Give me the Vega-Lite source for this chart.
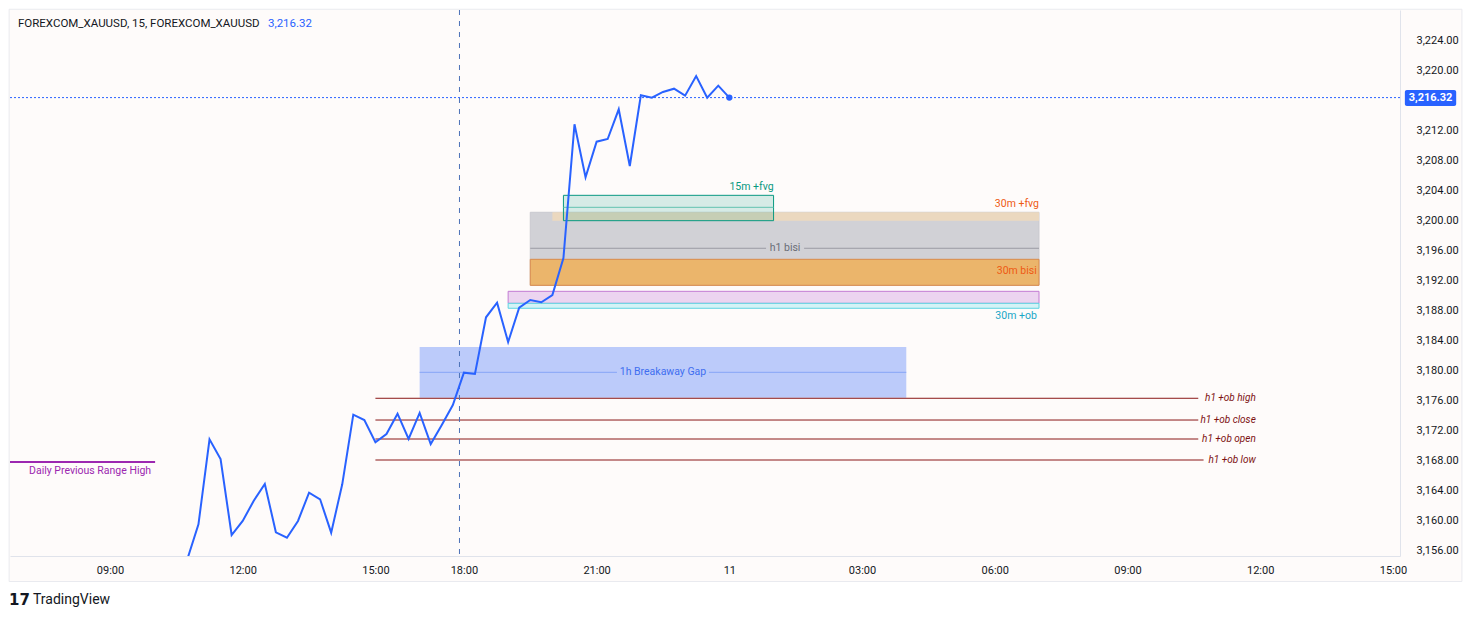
{
  "$schema": "https://vega.github.io/schema/vega-lite/v6.json",
  "width": 1390,
  "height": 546,
  "autosize": {"type": "none"},
  "padding": {"left": 10, "top": 10, "right": 71, "bottom": 61},
  "background": "#ffffff",
  "config": {"view": {"stroke": null}, "font": "Roboto"},
  "datasets": {
    "price": [
      {"time": "10:45", "t": 1.75, "v": 3154.8},
      {"time": "11:00", "t": 2.0, "v": 3159.43},
      {"time": "11:15", "t": 2.25, "v": 3170.76},
      {"time": "11:30", "t": 2.5, "v": 3168.13},
      {"time": "11:45", "t": 2.75, "v": 3158.0},
      {"time": "12:00", "t": 3.0, "v": 3159.87},
      {"time": "12:15", "t": 3.25, "v": 3162.57},
      {"time": "12:30", "t": 3.5, "v": 3164.8},
      {"time": "12:45", "t": 3.75, "v": 3158.36},
      {"time": "13:00", "t": 4.0, "v": 3157.64},
      {"time": "13:15", "t": 4.25, "v": 3159.87},
      {"time": "13:30", "t": 4.5, "v": 3163.64},
      {"time": "13:45", "t": 4.75, "v": 3162.76},
      {"time": "14:00", "t": 5.0, "v": 3158.31},
      {"time": "14:15", "t": 5.25, "v": 3164.76},
      {"time": "14:30", "t": 5.5, "v": 3174.04},
      {"time": "14:45", "t": 5.75, "v": 3173.33},
      {"time": "15:00", "t": 6.0, "v": 3170.36},
      {"time": "15:15", "t": 6.25, "v": 3171.47},
      {"time": "15:30", "t": 6.5, "v": 3174.18},
      {"time": "15:45", "t": 6.75, "v": 3170.8},
      {"time": "16:00", "t": 7.0, "v": 3174.27},
      {"time": "16:15", "t": 7.25, "v": 3170.13},
      {"time": "16:30", "t": 7.5, "v": 3172.67},
      {"time": "16:45", "t": 7.75, "v": 3175.33},
      {"time": "18:00", "t": 8.0, "v": 3179.64},
      {"time": "18:15", "t": 8.25, "v": 3179.47},
      {"time": "18:30", "t": 8.5, "v": 3187.03},
      {"time": "18:45", "t": 8.75, "v": 3188.97},
      {"time": "19:00", "t": 9.0, "v": 3183.73},
      {"time": "19:15", "t": 9.25, "v": 3188.31},
      {"time": "19:30", "t": 9.5, "v": 3189.33},
      {"time": "19:45", "t": 9.75, "v": 3189.03},
      {"time": "20:00", "t": 10.0, "v": 3190.0},
      {"time": "20:15", "t": 10.25, "v": 3194.93},
      {"time": "20:30", "t": 10.5, "v": 3212.76},
      {"time": "20:45", "t": 10.75, "v": 3205.69},
      {"time": "21:00", "t": 11.0, "v": 3210.44},
      {"time": "21:15", "t": 11.25, "v": 3210.8},
      {"time": "21:30", "t": 11.5, "v": 3214.76},
      {"time": "21:45", "t": 11.75, "v": 3207.2},
      {"time": "22:00", "t": 12.0, "v": 3216.63},
      {"time": "22:15", "t": 12.25, "v": 3216.31},
      {"time": "22:30", "t": 12.5, "v": 3217.07},
      {"time": "22:45", "t": 12.75, "v": 3217.51},
      {"time": "23:00", "t": 13.0, "v": 3216.58},
      {"time": "23:15", "t": 13.25, "v": 3219.2},
      {"time": "23:30", "t": 13.5, "v": 3216.31},
      {"time": "23:45", "t": 13.75, "v": 3217.91},
      {"time": "00:00", "t": 14.0, "v": 3216.32}
    ],
    "zones": [
      {"zone": "h1 bisi", "t": 9.5, "t2": 21.0, "v": 3201.03, "v2": 3191.29},
      {"zone": "30m +fvg", "t": 10.0, "t2": 21.0, "v": 3201.03, "v2": 3199.91},
      {"zone": "30m bisi", "t": 9.5, "t2": 21.0, "v": 3194.76, "v2": 3191.29},
      {"zone": "30m +ob body", "t": 9.0, "t2": 21.0, "v": 3190.49, "v2": 3188.89},
      {"zone": "30m +ob edge", "t": 9.0, "t2": 21.0, "v": 3188.89, "v2": 3188.23},
      {"zone": "1h Breakaway Gap", "t": 7.0, "t2": 18.0, "v": 3183.07, "v2": 3176.31},
      {"zone": "15m +fvg", "t": 10.25, "t2": 15.0, "v": 3203.29, "v2": 3199.91}
    ],
    "mids": [
      {"seg": "h1 bisi", "t": 9.5, "t2": 14.83, "v": 3196.23},
      {"seg": "h1 bisi", "t": 15.69, "t2": 21.0, "v": 3196.23},
      {"seg": "1h Breakaway Gap", "t": 7.0, "t2": 11.46, "v": 3179.69},
      {"seg": "1h Breakaway Gap", "t": 13.54, "t2": 18.0, "v": 3179.69},
      {"seg": "15m +fvg", "t": 10.25, "t2": 15.0, "v": 3201.69}
    ],
    "levels": [
      {"level": "h1 +ob high", "t": 6.0, "t2": 24.6, "v": 3176.23, "tl": 25.9},
      {"level": "h1 +ob close", "t": 6.0, "t2": 24.6, "v": 3173.33, "tl": 25.9},
      {"level": "h1 +ob open", "t": 6.0, "t2": 24.6, "v": 3170.8, "tl": 25.9},
      {"level": "h1 +ob low", "t": 6.0, "t2": 24.72, "v": 3168.0, "tl": 25.9}
    ],
    "daily": [
      {"level": "Daily Previous Range High", "t": -2.3, "t2": 1.02, "v": 3167.73}
    ],
    "rlabels": [
      {"label": "15m +fvg", "t": 15.0, "v": 3204.4},
      {"label": "30m +fvg", "t": 21.0, "v": 3202.13},
      {"label": "30m bisi", "t": 20.95, "v": 3193.2},
      {"label": "30m +ob", "t": 20.95, "v": 3187.2},
      {"label": "Daily Previous Range High", "t": 0.93, "v": 3166.6}
    ],
    "clabels": [
      {"label": "h1 bisi", "t": 15.26, "v": 3196.23},
      {"label": "1h Breakaway Gap", "t": 12.5, "v": 3179.69}
    ],
    "header": [
      {"label": "FOREXCOM_XAUUSD, 15, FOREXCOM_XAUUSD", "kind": "name", "t": -2.08, "v": 3226.13},
      {"label": "3,216.32", "kind": "last", "t": 3.57, "v": 3226.13}
    ],
    "logo": [
      {"label": "TradingView", "t": -1.74, "v": 3149.33}
    ]
  },
  "layer": [
    {
      "data": {"values": [{}]},
      "mark": {"type": "rect", "fill": "#fefbfa", "stroke": "#e9eaef", "strokeWidth": 1, "clip": false},
      "encoding": {
        "x": {"datum": -2.28, "type": "quantitative", "scale": {"domain": [-2.26, 29.16], "nice": false, "zero": false}, "axis": null},
        "x2": {"datum": 30.56},
        "y": {"datum": 3228.1, "type": "quantitative", "scale": {"domain": [3155.2, 3228.0], "nice": false, "zero": false}, "axis": null},
        "y2": {"datum": 3151.8}
      }
    },
    {
      "data": {"name": "zones"},
      "transform": [{"filter": "datum.zone != '15m +fvg'"}],
      "mark": {"type": "rect", "strokeWidth": 1},
      "encoding": {
        "x": {"field": "t", "type": "quantitative", "scale": {"domain": [-2.26, 29.16], "nice": false, "zero": false}, "axis": null},
        "x2": {"field": "t2"},
        "y": {"field": "v", "type": "quantitative", "scale": {"domain": [3155.2, 3228.0], "nice": false, "zero": false}, "axis": null},
        "y2": {"field": "v2"},
        "fill": {"field": "zone", "type": "nominal", "legend": null,
          "scale": {"domain": ["h1 bisi", "30m +fvg", "30m bisi", "30m +ob body", "30m +ob edge", "1h Breakaway Gap"],
                    "range": ["#d1d1d6", "#ebd8bf", "#ebb56b", "#ecd4f0", "#d4f3f6", "#bccbfa"]}},
        "stroke": {"field": "zone", "type": "nominal", "legend": null,
          "scale": {"domain": ["h1 bisi", "30m +fvg", "30m bisi", "30m +ob body", "30m +ob edge", "1h Breakaway Gap"],
                    "range": ["#c9c9cf", "transparent", "#d98a4c", "#c27bd3", "#5ed3e1", "transparent"]}}
      }
    },
    {
      "data": {"name": "zones"},
      "transform": [{"filter": "datum.zone == '15m +fvg'"}],
      "mark": {"type": "rect", "fill": "#089981", "fillOpacity": 0.16, "stroke": "#089981", "strokeWidth": 1},
      "encoding": {
        "x": {"field": "t", "type": "quantitative", "scale": {"domain": [-2.26, 29.16], "nice": false, "zero": false}, "axis": null},
        "x2": {"field": "t2"},
        "y": {"field": "v", "type": "quantitative", "scale": {"domain": [3155.2, 3228.0], "nice": false, "zero": false}, "axis": null},
        "y2": {"field": "v2"}
      }
    },
    {
      "data": {"name": "mids"},
      "mark": {"type": "rule", "strokeWidth": 1},
      "encoding": {
        "x": {"field": "t", "type": "quantitative", "scale": {"domain": [-2.26, 29.16], "nice": false, "zero": false}, "axis": null},
        "x2": {"field": "t2"},
        "y": {"field": "v", "type": "quantitative", "scale": {"domain": [3155.2, 3228.0], "nice": false, "zero": false}, "axis": null},
        "color": {"field": "seg", "type": "nominal", "legend": null,
          "scale": {"domain": ["h1 bisi", "1h Breakaway Gap", "15m +fvg"], "range": ["#9b9ba3", "#86a5f7", "#62c2b0"]}}
      }
    },
    {
      "data": {"name": "levels"},
      "mark": {"type": "rule", "color": "#8a1717", "strokeWidth": 1},
      "encoding": {
        "x": {"field": "t", "type": "quantitative", "scale": {"domain": [-2.26, 29.16], "nice": false, "zero": false}, "axis": null},
        "x2": {"field": "t2"},
        "y": {"field": "v", "type": "quantitative", "scale": {"domain": [3155.2, 3228.0], "nice": false, "zero": false}, "axis": null}
      }
    },
    {
      "data": {"name": "levels"},
      "mark": {"type": "text", "align": "right", "baseline": "middle", "fontStyle": "italic", "fontSize": 10, "color": "#7d1212"},
      "encoding": {
        "x": {"field": "tl", "type": "quantitative", "scale": {"domain": [-2.26, 29.16], "nice": false, "zero": false}, "axis": null},
        "y": {"field": "v", "type": "quantitative", "scale": {"domain": [3155.2, 3228.0], "nice": false, "zero": false}, "axis": null},
        "text": {"field": "level"}
      }
    },
    {
      "data": {"name": "daily"},
      "mark": {"type": "rule", "color": "#9c27b0", "strokeWidth": 2, "clip": true},
      "encoding": {
        "x": {"field": "t", "type": "quantitative", "scale": {"domain": [-2.26, 29.16], "nice": false, "zero": false}, "axis": null},
        "x2": {"field": "t2"},
        "y": {"field": "v", "type": "quantitative", "scale": {"domain": [3155.2, 3228.0], "nice": false, "zero": false}, "axis": null}
      }
    },
    {
      "data": {"values": [{}]},
      "mark": {"type": "rule", "color": "#4d72b8", "strokeWidth": 1, "strokeDash": [5, 6]},
      "encoding": {
        "x": {"datum": 7.9, "type": "quantitative", "scale": {"domain": [-2.26, 29.16], "nice": false, "zero": false}, "axis": null}
      }
    },
    {
      "data": {"values": [{}]},
      "mark": {"type": "rule", "color": "#2962ff", "strokeWidth": 1, "strokeDash": [2, 2]},
      "encoding": {
        "y": {"datum": 3216.32, "type": "quantitative", "scale": {"domain": [3155.2, 3228.0], "nice": false, "zero": false}, "axis": null}
      }
    },
    {
      "data": {"name": "price"},
      "mark": {"type": "line", "color": "#2962ff", "strokeWidth": 2, "clip": true, "strokeJoin": "miter"},
      "encoding": {
        "x": {"field": "t", "type": "quantitative", "scale": {"domain": [-2.26, 29.16], "nice": false, "zero": false},
          "axis": {"values": [0, 3, 6, 8, 11, 14, 17, 20, 23, 26, 29],
            "labelExpr": "['09:00','12:00','15:00','18:00','21:00','11','03:00','06:00','09:00','12:00','15:00'][indexof([0,3,6,8,11,14,17,20,23,26,29], datum.value)]",
            "ticks": false, "grid": false, "domain": true, "domainColor": "#e0e3eb", "labelFont": "Roboto", "labelFontSize": 11,
            "labelColor": "#131722", "labelPadding": 8, "title": null, "zindex": 1, "labelFlush": false, "labelOverlap": false}},
        "y": {"field": "v", "type": "quantitative", "scale": {"domain": [3155.2, 3228.0], "nice": false, "zero": false},
          "axis": {"orient": "right", "values": [3156, 3160, 3164, 3168, 3172, 3176, 3180, 3184, 3188, 3192, 3196, 3200, 3204, 3208, 3212, 3220, 3224],
            "format": ",.2f", "ticks": false, "grid": false, "domain": true, "domainColor": "#e0e3eb", "labelFont": "Roboto", "labelFontSize": 11,
            "labelColor": "#131722", "labelPadding": 16, "title": null, "zindex": 1, "labelFlush": false, "labelOverlap": false}},
        "order": {"field": "t", "type": "quantitative"}
      }
    },
    {
      "data": {"name": "price"},
      "transform": [{"filter": "datum.t == 14"}],
      "mark": {"type": "circle", "color": "#2962ff", "size": 40, "opacity": 1},
      "encoding": {
        "x": {"field": "t", "type": "quantitative", "scale": {"domain": [-2.26, 29.16], "nice": false, "zero": false}, "axis": null},
        "y": {"field": "v", "type": "quantitative", "scale": {"domain": [3155.2, 3228.0], "nice": false, "zero": false}, "axis": null}
      }
    },
    {
      "data": {"values": [{}]},
      "mark": {"type": "rect", "color": "#2962ff", "cornerRadius": 2, "clip": false},
      "encoding": {
        "x": {"datum": 29.27, "type": "quantitative", "scale": {"domain": [-2.26, 29.16], "nice": false, "zero": false}, "axis": null},
        "x2": {"datum": 30.43},
        "y": {"datum": 3217.35, "type": "quantitative", "scale": {"domain": [3155.2, 3228.0], "nice": false, "zero": false}, "axis": null},
        "y2": {"datum": 3215.2}
      }
    },
    {
      "data": {"name": "price"},
      "transform": [{"filter": "datum.t == 14"}],
      "mark": {"type": "text", "color": "#ffffff", "fontWeight": "bold", "fontSize": 11, "align": "center", "baseline": "middle"},
      "encoding": {
        "x": {"datum": 29.85, "type": "quantitative", "scale": {"domain": [-2.26, 29.16], "nice": false, "zero": false}, "axis": null},
        "y": {"field": "v", "type": "quantitative", "scale": {"domain": [3155.2, 3228.0], "nice": false, "zero": false}, "axis": null},
        "text": {"field": "v", "format": ",.2f"}
      }
    },
    {
      "data": {"name": "rlabels"},
      "mark": {"type": "text", "align": "right", "baseline": "middle", "fontSize": 10.5},
      "encoding": {
        "x": {"field": "t", "type": "quantitative", "scale": {"domain": [-2.26, 29.16], "nice": false, "zero": false}, "axis": null},
        "y": {"field": "v", "type": "quantitative", "scale": {"domain": [3155.2, 3228.0], "nice": false, "zero": false}, "axis": null},
        "text": {"field": "label"},
        "color": {"field": "label", "type": "nominal", "legend": null,
          "scale": {"domain": ["15m +fvg", "30m +fvg", "30m bisi", "30m +ob", "Daily Previous Range High"],
                    "range": ["#089981", "#ee5a14", "#ee5a14", "#1aa6c6", "#9c27b0"]}}
      }
    },
    {
      "data": {"name": "clabels"},
      "mark": {"type": "text", "align": "center", "baseline": "middle", "fontSize": 10.5},
      "encoding": {
        "x": {"field": "t", "type": "quantitative", "scale": {"domain": [-2.26, 29.16], "nice": false, "zero": false}, "axis": null},
        "y": {"field": "v", "type": "quantitative", "scale": {"domain": [3155.2, 3228.0], "nice": false, "zero": false}, "axis": null},
        "text": {"field": "label"},
        "color": {"field": "label", "type": "nominal", "legend": null,
          "scale": {"domain": ["h1 bisi", "1h Breakaway Gap"], "range": ["#6a6d76", "#3f6ef0"]}}
      }
    },
    {
      "data": {"name": "header"},
      "mark": {"type": "text", "align": "left", "baseline": "middle", "fontSize": 11.5},
      "encoding": {
        "x": {"field": "t", "type": "quantitative", "scale": {"domain": [-2.26, 29.16], "nice": false, "zero": false}, "axis": null},
        "y": {"field": "v", "type": "quantitative", "scale": {"domain": [3155.2, 3228.0], "nice": false, "zero": false}, "axis": null},
        "text": {"field": "label"},
        "color": {"field": "kind", "type": "nominal", "legend": null,
          "scale": {"domain": ["name", "last"], "range": ["#131722", "#2962ff"]}}
      }
    },
    {
      "data": {"name": "logo"},
      "mark": {"type": "text", "align": "left", "baseline": "middle", "fontSize": 14, "color": "#131722"},
      "encoding": {
        "x": {"field": "t", "type": "quantitative", "scale": {"domain": [-2.26, 29.16], "nice": false, "zero": false}, "axis": null},
        "y": {"field": "v", "type": "quantitative", "scale": {"domain": [3155.2, 3228.0], "nice": false, "zero": false}, "axis": null},
        "text": {"field": "label"}
      }
    },
    {
      "data": {"name": "logo"},
      "mark": {"type": "text", "align": "left", "baseline": "middle", "fontSize": 15, "fontWeight": 900, "font": "DejaVu Sans", "color": "#131722", "dx": -24, "letterSpacing": -1},
      "encoding": {
        "x": {"field": "t", "type": "quantitative", "scale": {"domain": [-2.26, 29.16], "nice": false, "zero": false}, "axis": null},
        "y": {"field": "v", "type": "quantitative", "scale": {"domain": [3155.2, 3228.0], "nice": false, "zero": false}, "axis": null},
        "text": {"value": "17"}
      }
    }
  ],
  "resolve": {
    "scale": {"color": "independent", "fill": "independent", "stroke": "independent"},
    "axis": {"x": "independent", "y": "independent"}
  }
}
